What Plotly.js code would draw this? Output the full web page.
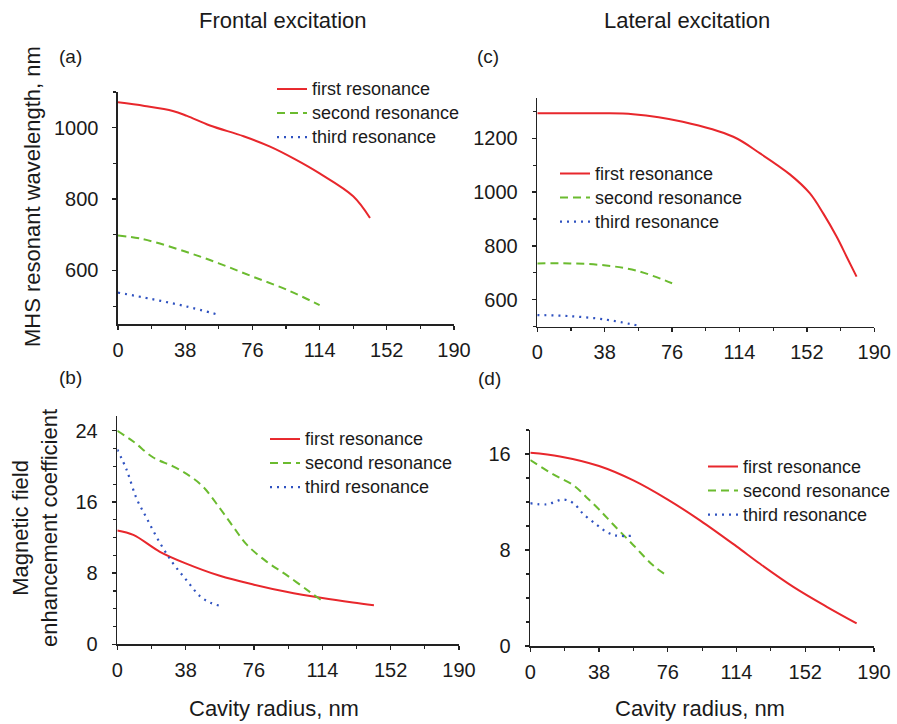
<!DOCTYPE html>
<html>
<head>
<meta charset="utf-8">
<script src="https://cdn.plot.ly/plotly-3.0.1.min.js"></script>
<style>html,body{margin:0;padding:0;background:#fff;}#chart{width:897px;height:724px;}</style>
</head>
<body>
<div id="chart"></div>
<script>
// Panel (a): frontal excitation, resonant wavelength (nm)
const aX1 = [0, 15, 31, 39, 52, 71, 86, 100, 114, 133, 142.5];
const aY1 = [1071, 1061, 1047, 1033, 1006, 976, 947, 912, 872, 808, 747];
const aX2 = [0, 14, 38, 57, 76, 95, 114];
const aY2 = [698, 688, 653, 620, 583, 547, 503];
const aX3 = [0, 19, 38, 57.5];
const aY3 = [538, 520, 500, 475];

// Panel (c): lateral excitation, resonant wavelength (nm)
const cX1 = [0, 35, 54, 82, 110.5, 125.6, 142.4, 153.6, 161.2, 168.8, 174.4, 180];
const cY1 = [1293, 1293, 1290, 1262, 1206, 1144, 1066, 996, 921, 834, 760, 686];
const cX2 = [0, 18.4, 37.6, 56, 76];
const cY2 = [735, 735, 728, 708, 661];
const cX3 = [0, 18, 37.6, 57.3];
const cY3 = [543, 539, 527, 503];

// Panel (b): frontal excitation, enhancement coefficient
const bX1 = [0, 8.9, 23.7, 38, 57, 76, 94, 114, 131, 142.7];
const bY1 = [12.8, 12.3, 10.4, 9.1, 7.7, 6.7, 5.9, 5.2, 4.7, 4.4];
const bX2 = [0, 8.9, 20, 31, 40.4, 47.8, 57, 64.5, 72, 83, 94, 107, 114.5];
const bY2 = [24, 22.8, 21, 20, 18.9, 17.7, 15.3, 13.2, 11.2, 9.3, 7.8, 5.9, 4.8];
const bX3 = [0, 5.2, 10.7, 16.3, 23.7, 31, 38.5, 46, 51.5, 57.5];
const bY3 = [21.9, 19.6, 16.4, 14.2, 11.4, 9.1, 7.2, 5.4, 4.7, 4.3];

// Panel (d): lateral excitation, enhancement coefficient
const dX1 = [0, 16.4, 38, 57, 76, 94, 114, 127, 145.4, 163.9, 180.4];
const dY1 = [16.1, 15.8, 15.0, 13.8, 12.2, 10.45, 8.3, 6.85, 4.93, 3.27, 1.89];
const dX2 = [0, 12.7, 23.8, 31, 38.5, 46, 57, 68, 76.3];
const dY2 = [15.5, 14.3, 13.4, 12.4, 11.3, 10.1, 8.4, 6.7, 5.8];
const dX3 = [0, 9, 18.2, 23.8, 29.3, 36.7, 42.2, 47.7, 57.3];
const dY3 = [11.9, 11.8, 12.2, 11.9, 11.0, 10.1, 9.5, 9.2, 9.2];

const xTicks = [0, 38, 76, 114, 152, 190];
const names = ["first resonance", "second resonance", "third resonance"];
const frontalTitle = "Frontal excitation";
const lateralTitle = "Lateral excitation";
const xTitle = "Cavity radius, nm";
const yTitleTop = "MHS resonant wavelength, nm";
const yTitleBottom = "Magnetic field<br>enhancement coefficient";

const RED = "#e8272c", GREEN = "#6bbb2f", BLUE = "#2f52c0";
const lineStyles = [
  {color: RED, width: 2, dash: "solid"},
  {color: GREEN, width: 2, dash: "8px,5px"},
  {color: BLUE, width: 2.2, dash: "2px,5px"}
];

function series(xs, ys, xa, ya, leg) {
  return xs.map((x, i) => ({
    x: x, y: ys[i], xaxis: xa, yaxis: ya, type: "scatter", mode: "lines",
    line: Object.assign({shape: "spline", smoothing: 1}, lineStyles[i]),
    name: "<span style='font-size:18px'>" + names[i] + "</span>",
    legend: leg, showlegend: true
  }));
}

const data = [].concat(
  series([aX1, aX2, aX3], [aY1, aY2, aY3], "x", "y", "legend"),
  series([bX1, bX2, bX3], [bY1, bY2, bY3], "x2", "y2", "legend2"),
  series([cX1, cX2, cX3], [cY1, cY2, cY3], "x3", "y3", "legend3"),
  series([dX1, dX2, dX3], [dY1, dY2, dY3], "x4", "y4", "legend4")
);

const W = 897, H = 724;
const FONT = "Liberation Sans, Arial, sans-serif";
const TXT = "#1a1a1a";

function xax(d0, d1, anchor) {
  return {
    domain: [d0 / W, d1 / W], range: [0, 190], anchor: anchor,
    tickvals: xTicks, ticktext: xTicks.map(String),
    ticks: "outside", ticklen: 4, tickwidth: 1.3, tickcolor: "#222",
    minor: {tickvals: [19, 57, 95, 133, 171], ticks: "outside", ticklen: 3, tickwidth: 1.2, tickcolor: "#222"},
    showline: true, linecolor: "#222", linewidth: 1.6, showgrid: false, zeroline: false,
    tickfont: {family: FONT, size: 20, color: TXT}, ticklabelstandoff: 3, fixedrange: true
  };
}
function yax(bottomPx, topPx, range, tickvals, minorDt, anchor) {
  return {
    domain: [1 - bottomPx / H, 1 - topPx / H], range: range, anchor: anchor,
    tickvals: tickvals, ticks: "outside", ticklen: 4, tickwidth: 1.3, tickcolor: "#222",
    minor: {dtick: minorDt, tick0: 0, ticks: "outside", ticklen: 3, tickwidth: 1.2, tickcolor: "#222"},
    showline: true, linecolor: "#222", linewidth: 1.6, showgrid: false, zeroline: false,
    tickfont: {family: FONT, size: 20, color: TXT}, ticklabelstandoff: 10, fixedrange: true
  };
}

function legend(xPx, yTopPx) {
  return {
    x: xPx / W, y: 1 - yTopPx / H, xanchor: "left", yanchor: "top",
    bgcolor: "rgba(0,0,0,0)", borderwidth: 0,
    font: {family: FONT, size: 16.2, color: TXT},
    itemwidth: 30, tracegroupgap: 0, traceorder: "normal"
  };
}

function ann(text, xPx, yPx, size, extra) {
  return Object.assign({
    text: text, xref: "paper", yref: "paper", x: xPx / W, y: 1 - yPx / H,
    xanchor: "center", yanchor: "middle", showarrow: false,
    font: {family: FONT, size: size, color: TXT}
  }, extra || {});
}

const layout = {
  width: W, height: H,
  margin: {l: 0, r: 0, t: 0, b: 0},
  paper_bgcolor: "#fff", plot_bgcolor: "rgba(0,0,0,0)",
  showlegend: true,
  xaxis: xax(118, 454, "y"),
  yaxis: yax(324, 92, [450, 1100], [600, 800, 1000], 100, "x"),
  xaxis2: xax(117.3, 459, "y2"),
  yaxis2: yax(644.3, 415.7, [0, 25.7], [0, 8, 16, 24], 2, "x2"),
  xaxis3: xax(537.3, 874.3, "y3"),
  yaxis3: yax(326.6, 98, [500, 1350], [600, 800, 1000, 1200], 100, "x3"),
  xaxis4: xax(530.3, 874, "y4"),
  yaxis4: yax(646, 430, [0, 18], [0, 8, 16], 2, "x4"),
  legend: legend(272, 72),
  legend2: legend(265, 422),
  legend3: legend(555, 156.5),
  legend4: legend(703, 449.5),
  annotations: [
    ann(frontalTitle, 283, 20, 22),
    ann(lateralTitle, 687, 20, 22),
    ann("(a)", 70, 57, 19),
    ann("(b)", 70, 377, 19),
    ann("(c)", 488, 57, 19),
    ann("(d)", 489, 378, 19),
    ann(yTitleTop, 33, 197, 22, {textangle: -90}),
    ann(yTitleBottom, 35, 528, 22, {textangle: -90}),
    ann(xTitle, 274, 708, 22),
    ann(xTitle, 700, 708, 22)
  ]
};

Plotly.newPlot("chart", data, layout, {staticPlot: true, displayModeBar: false});
</script>
</body>
</html>
